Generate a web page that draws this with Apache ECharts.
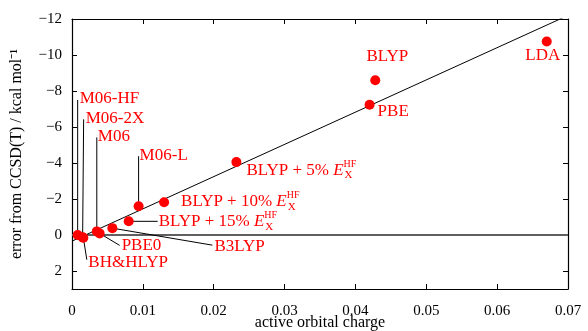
<!DOCTYPE html>
<html>
<head>
<meta charset="utf-8">
<script src="https://cdn.jsdelivr.net/npm/echarts@6/dist/echarts.min.js"></script>
<style>
  html, body { margin: 0; padding: 0; background: #fff; }
  #chart { width: 588px; height: 331px; }
</style>
</head>
<body>
<div id="chart"></div>
<script>
// functionals, charge on active orbitals and error vs CCSD(T) (kcal/mol)
let names = ['LDA', 'BLYP', 'PBE', 'BLYP + 5%', 'BLYP + 10%', 'BLYP + 15%', 'M06-L',
    'B3LYP', 'M06', 'PBE0', 'M06-2X', 'BH&HLYP', 'M06-HF'];
let charge = [0.0670, 0.0428, 0.0420, 0.0232, 0.0130, 0.0080, 0.0094,
    0.0057, 0.0035, 0.0039, 0.0015, 0.0016, 0.0008];
let error = [-10.75, -8.60, -7.24, -4.05, -1.82, -0.76, -1.60,
    -0.38, -0.20, -0.09, 0.13, 0.15, 0.0];
// linear fit through the points
let fitX = [0, 0.07];
let fitY = [0.34, -12.2];
let yTicks = [-12, -10, -8, -6, -4, -2, 0, 2];

// label placement in pixels relative to the dot: text anchor (tx,ty), leader end (lx,ly)
let layout = {
    'LDA': { tx: -4, ty: 14, align: 'center' },
    'BLYP': { tx: 12, ty: -24, align: 'center' },
    'PBE': { tx: 8, ty: 7 },
    'BLYP + 5%': { tx: 10, ty: 8, hf: true },
    'BLYP + 10%': { tx: 17, ty: -1, hf: true },
    'BLYP + 15%': { tx: 30, ty: 0, lx: 29, ly: 0, hf: true },
    'M06-L': { tx: 1, ty: -51, lx: 0, ly: -50 },
    'B3LYP': { tx: 102, ty: 18, lx: 100, ly: 17 },
    'M06': { tx: 1, ty: -95, lx: 0, ly: -94 },
    'PBE0': { tx: 22, ty: 12, lx: 20, ly: 12 },
    'M06-2X': { tx: 3, ty: -119, lx: 1, ly: -118 },
    'BH&HLYP': { tx: 5, ty: 25, lx: 3.5, ly: 22 },
    'M06-HF': { tx: 2, ty: -136, lx: 0, ly: -135 }
};

let font = 'Liberation Serif';
let red = '#ff0000';

let points = names.map((n, i) => [charge[i], error[i], i]);

var chart = echarts.init(document.getElementById('chart'));

let frameAxis = {
    axisLine: { show: true, onZero: false, lineStyle: { color: '#000', width: 1.2 } },
    splitLine: { show: false }
};
let tickStyle = { show: true, inside: true, length: 5, lineStyle: { color: '#000' } };

option = {
    backgroundColor: '#fff',
    animation: false,
    grid: { left: 72, right: 20, top: 19, bottom: 42, outerBoundsMode: 'none', containLabel: false },
    xAxis: [Object.assign({
        type: 'value', min: 0, max: 0.07, interval: 0.01, position: 'bottom',
        name: 'active orbital charge', nameLocation: 'middle', nameGap: 26, nameMoveOverlap: false,
        nameTextStyle: { fontFamily: font, fontSize: 16, color: '#000' },
        axisTick: tickStyle,
        axisLabel: {
            margin: 15, fontFamily: font, fontSize: 15, color: '#000',
            formatter: v => String(+v.toFixed(2))
        }
    }, frameAxis), Object.assign({
        type: 'value', min: 0, max: 0.07, interval: 0.01, position: 'top',
        axisTick: tickStyle,
        axisLabel: { show: false }
    }, frameAxis)],
    yAxis: [Object.assign({
        type: 'value', min: -12, max: 3, inverse: true, position: 'left',
        name: 'error from CCSD(T) / kcal mol\u207B\u00B9', nameLocation: 'middle', nameGap: 47, nameMoveOverlap: false,
        nameTextStyle: { fontFamily: font, fontSize: 16, color: '#000' },
        axisTick: Object.assign({ customValues: yTicks }, tickStyle),
        axisLabel: {
            customValues: yTicks,
            margin: 10, fontFamily: font, fontSize: 15, color: '#000',
            formatter: v => v < 0 ? '\u2212' + (-v) : String(v)
        }
    }, frameAxis), Object.assign({
        type: 'value', min: -12, max: 3, inverse: true, position: 'right',
        axisTick: Object.assign({ customValues: yTicks }, tickStyle),
        axisLabel: { show: false }
    }, frameAxis)],
    series: [{
        type: 'line',
        data: [[0, 0], [0.07, 0]],
        symbol: 'none',
        lineStyle: { color: '#606060', width: 2 },
        z: 1
    }, {
        type: 'line',
        data: fitX.map((x, i) => [x, fitY[i]]),
        symbol: 'none',
        clip: true,
        lineStyle: { color: '#000', width: 1 },
        z: 2
    }, {
        type: 'custom',
        data: points,
        z: 3,
        renderItem: function(params, api) {
            let p = api.coord([api.value(0), api.value(1)]);
            let name = names[api.value(2)];
            let l = layout[name];
            let children = [];
            if (l.lx !== undefined) {
                children.push({
                    type: 'line',
                    shape: { x1: p[0], y1: p[1], x2: p[0] + l.lx, y2: p[1] + l.ly },
                    style: { stroke: '#000', lineWidth: 1 }
                });
            }
            let txt = l.hf ? '{n|' + name + ' }{e|E}{sup|HF}{sub|X}' : '{n|' + name + '}';
            children.push({
                type: 'text',
                style: {
                    text: txt,
                    x: p[0] + l.tx,
                    y: p[1] + l.ty,
                    align: l.align || 'left',
                    verticalAlign: 'middle',
                    fill: red,
                    fontFamily: font,
                    fontSize: 17,
                    rich: {
                        n: { fontFamily: font, fontSize: 17, color: red, lineHeight: 22 },
                        e: { fontFamily: font, fontSize: 17, fontStyle: 'italic', color: red, lineHeight: 22 },
                        sup: { fontFamily: font, fontSize: 10, color: red, verticalAlign: 'top', width: 1, lineHeight: 14 },
                        sub: { fontFamily: font, fontSize: 11, color: red, verticalAlign: 'bottom', lineHeight: 12 }
                    }
                }
            });
            return { type: 'group', children: children };
        }
    }, {
        type: 'scatter',
        data: points,
        symbolSize: 10,
        itemStyle: { color: red, opacity: 1 },
        z: 4
    }]
};
chart.setOption(option);
</script>
</body>
</html>
